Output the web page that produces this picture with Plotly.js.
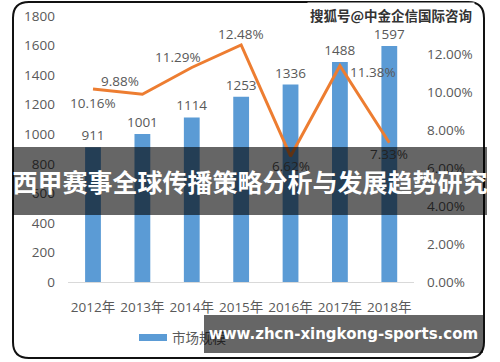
<!DOCTYPE html>
<html>
<head>
<meta charset="utf-8">
<script src="https://cdn.plot.ly/plotly-3.0.1.min.js"></script>
<style>html,body{margin:0;padding:0;background:#fff;}#chart{width:500px;height:362px;}</style>
</head>
<body>
<div id="chart"></div>
<script>
var years = ['2012年','2013年','2014年','2015年','2016年','2017年','2018年'];
var marketSize = [911, 1001, 1114, 1253, 1336, 1488, 1597];
var growthRate = [0.1016, 0.0988, 0.1129, 0.1248, 0.0662, 0.1138, 0.0733];
var growthLabels = ['10.16%','9.88%','11.29%','12.48%','6.62%','11.38%','7.33%'];
var seriesNames = ['市场规模','增长率'];
var titleText = '西甲赛事全球传播策略分析与发展趋势研究';
var urlText = 'www.zhcn-xingkong-sports.com';
var watermarkText = '搜狐号@中金企信国际咨询';

var FONT = 'Open Sans, Noto Sans CJK SC, sans-serif';
var GREY = '#595959';
var BLUE = '#5B9BD5', ORANGE = '#ED7D31';

// pixel helpers for overlay placement
var L = 68, R = 86, T = 16, B = 80, W = 500, H = 362;
var pw = W - L - R, ph = H - T - B;
function px(x){ return (x - L) / pw; }
function py(y){ return (H - B - y) / ph; }

var bars = {
  type: 'bar', x: years, y: marketSize, name: seriesNames[0],
  marker: {color: BLUE},
  text: marketSize.map(String), textposition: 'outside', constraintext: 'none', cliponaxis: false,
  textfont: {family: FONT, size: 13.5, color: GREY},
  hoverinfo: 'none', showlegend: false
};
var line = {
  type: 'scatter', mode: 'lines', x: years, y: growthRate, yaxis: 'y2',
  name: seriesNames[1], showlegend: false,
  line: {color: ORANGE, width: 3},
  cliponaxis: false, hoverinfo: 'none'
};

// label offsets (px) for growth-rate labels, Excel-like placement
var labelShift = [[0,-14],[-22,13],[-14,10],[0,11],[0,-10],[33,-6],[0,-11]];
var rateAnnotations = growthRate.map(function(v, i){
  return {xref: 'x', yref: 'y2', x: years[i], y: v, text: growthLabels[i], showarrow: false,
          xshift: labelShift[i][0], yshift: labelShift[i][1],
          font: {family: FONT, size: 13.5, color: GREY}};
});

// rounded frame path in paper coords
var r = 16, fx0 = 13, fx1 = 484, fy0 = 2, fy1 = 358;
function P(x,y){ return px(x).toFixed(5) + ',' + py(y).toFixed(5); }
var framePath = 'M' + P(fx0 + r, fy0) + ' L' + P(fx1 - r, fy0) + ' Q' + P(fx1, fy0) + ' ' + P(fx1, fy0 + r) +
  ' L' + P(fx1, fy1 - r) + ' Q' + P(fx1, fy1) + ' ' + P(fx1 - r, fy1) +
  ' L' + P(fx0 + r, fy1) + ' Q' + P(fx0, fy1) + ' ' + P(fx0, fy1 - r) +
  ' L' + P(fx0, fy0 + r) + ' Q' + P(fx0, fy0) + ' ' + P(fx0 + r, fy0) + ' Z';

var layout = {
  width: W, height: H,
  margin: {l: L, r: R, t: T, b: B, pad: 0},
  paper_bgcolor: '#fff', plot_bgcolor: '#fff',
  font: {family: FONT, color: GREY, size: 13},
  bargap: 0.68,
  showlegend: false,
  xaxis: {type: 'category', showline: true, linecolor: '#d9d9d9', linewidth: 1, ticks: '',
          ticklabelstandoff: 13, tickfont: {family: FONT, size: 13.5, color: GREY}, fixedrange: true},
  yaxis: {range: [0, 1800], dtick: 200, showgrid: false, zeroline: false, showline: false,
          ticks: '', ticklabelstandoff: 12, tickfont: {family: FONT, size: 13.5, color: GREY}},
  yaxis2: {range: [0, 0.14], dtick: 0.02, tickformat: '.2%', overlaying: 'y', side: 'right',
           showgrid: false, zeroline: false, showline: false, ticks: '', ticklabelstandoff: 12,
           tickfont: {family: FONT, size: 13.5, color: GREY}},
  shapes: [
    {type: 'rect', xref: 'paper', yref: 'paper', x0: px(139), x1: px(167), y0: py(341), y1: py(334),
     fillcolor: BLUE, line: {width: 0}, layer: 'above'},
    {type: 'path', xref: 'paper', yref: 'paper', path: framePath, layer: 'above',
     line: {color: '#111', width: 2}, fillcolor: 'rgba(0,0,0,0)'}
  ],
  annotations: rateAnnotations.concat([
    {xref: 'paper', yref: 'paper', x: px(170), y: py(337.5), xanchor: 'left', yanchor: 'middle',
     showarrow: false, text: seriesNames[0], font: {family: FONT, size: 13.5, color: GREY}},
    {xref: 'paper', yref: 'paper', x: px(13), y: py(147), xanchor: 'left', yanchor: 'top',
     width: 474, height: 68, bgcolor: 'rgba(0,0,0,0.6)', borderpad: 0, borderwidth: 0,
     showarrow: false, align: 'center', valign: 'middle', text: '<b>' + titleText + '</b>',
     font: {family: 'Noto Sans CJK SC, sans-serif', size: 25, color: '#fff'}},
    {xref: 'paper', yref: 'paper', x: px(204), y: py(315), xanchor: 'left', yanchor: 'top',
     width: 279, height: 38, bgcolor: 'rgba(0,0,0,0.6)', borderpad: 0, borderwidth: 0,
     showarrow: false, align: 'center', valign: 'middle', text: '<b>' + urlText + '</b>',
     font: {family: 'DejaVu Sans, sans-serif', size: 15, color: '#fff'}},
    {xref: 'paper', yref: 'paper', x: px(475), y: py(15), xanchor: 'right', yanchor: 'middle',
     showarrow: false, text: '<b>' + watermarkText + '</b>', bgcolor: '#fff', borderpad: 2,
     font: {family: 'Noto Sans CJK SC, sans-serif', size: 13.5, color: '#333'}}
  ])
};

Plotly.newPlot('chart', [bars, line], layout, {displayModeBar: false, staticPlot: true});
</script>
</body>
</html>
